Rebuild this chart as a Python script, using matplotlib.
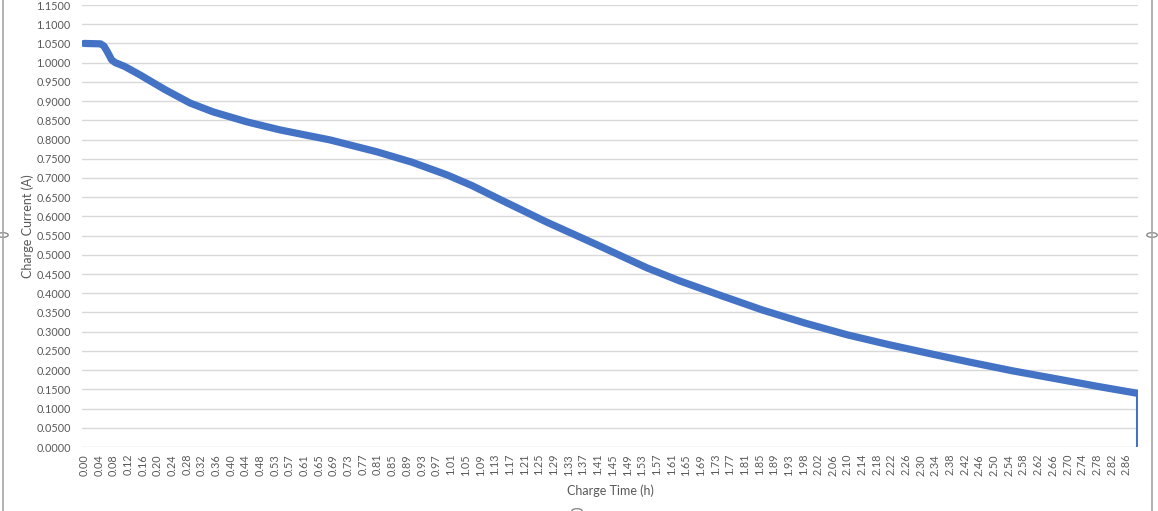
import numpy as np
import matplotlib.pyplot as plt
from matplotlib.patches import Circle
from matplotlib.lines import Line2D

# Charge curve (hours, amps)
time_h = [0.000, 0.045, 0.055, 0.066, 0.076, 0.086, 0.112, 0.154, 0.222, 0.291,
          0.354, 0.447, 0.538, 0.675, 0.804, 0.900, 0.996, 1.065, 1.133, 1.270,
          1.408, 1.545, 1.635, 1.745, 1.863, 1.980, 2.094, 2.210, 2.321, 2.435,
          2.549, 2.665, 2.780, 2.889, 2.889]
current_a = [1.050, 1.049, 1.043, 1.025, 1.007, 1.000, 0.990, 0.968, 0.930, 0.895,
             0.872, 0.846, 0.825, 0.799, 0.768, 0.741, 0.708, 0.680, 0.648, 0.585,
             0.526, 0.466, 0.432, 0.395, 0.356, 0.322, 0.292, 0.266, 0.243, 0.220,
             0.198, 0.178, 0.158, 0.140, 0.000]

# category labels shown on the x axis
x_labels = ['0.00', '0.04', '0.08', '0.12', '0.16', '0.20', '0.24', '0.28', '0.32', '0.36',
            '0.40', '0.44', '0.48', '0.53', '0.57', '0.61', '0.65', '0.69', '0.73', '0.77',
            '0.81', '0.85', '0.89', '0.93', '0.97', '1.01', '1.05', '1.09', '1.13', '1.17',
            '1.21', '1.25', '1.29', '1.33', '1.37', '1.41', '1.45', '1.49', '1.53', '1.57',
            '1.61', '1.65', '1.69', '1.73', '1.77', '1.81', '1.85', '1.89', '1.93', '1.98',
            '2.02', '2.06', '2.10', '2.14', '2.18', '2.22', '2.26', '2.30', '2.34', '2.38',
            '2.42', '2.46', '2.50', '2.54', '2.58', '2.62', '2.66', '2.70', '2.74', '2.78',
            '2.82', '2.86']

plt.rcParams['font.family'] = ['Lato', 'DejaVu Sans']
text_col = '#595959'
blue = '#4472C4'

fig = plt.figure(figsize=(11.58, 5.11), dpi=100)
ax = fig.add_axes([0.0708, 0.1252, 0.9119, 0.8650])

# the curve itself, then the drop to zero at the end (drawn thinner in Excel)
ax.plot(time_h[:-1], current_a[:-1], color=blue, linewidth=5.2,
        solid_capstyle='round', solid_joinstyle='round', zorder=3)
ax.plot(time_h[-2:], current_a[-2:], color=blue, linewidth=2.2, zorder=3)

# Excel category axis: evenly spaced labels
step = 2.86 / (len(x_labels) - 1)
ax.set_xticks(np.arange(len(x_labels)) * step)
ax.set_xticklabels(x_labels, rotation=90, fontsize=7.8, color=text_col)
ax.set_xlim(-0.0055, 2.892)

ax.set_ylim(0, 1.15)
ax.set_yticks(np.arange(0, 1.1501, 0.05))
ax.set_yticklabels([f'{v:.4f}' for v in np.arange(0, 1.1501, 0.05)],
                   fontsize=7.8, color=text_col)
ax.grid(axis='y', color='#d9d9d9', linewidth=1)
ax.tick_params(length=0, pad=8)
ax.tick_params(axis='x', pad=5)
for s in ax.spines.values():
    s.set_visible(False)

ax.set_xlabel('Charge Time (h)', fontsize=9, color=text_col, labelpad=6)
ax.set_ylabel('Charge Current (A)', fontsize=9, color=text_col)
ax.yaxis.set_label_coords(-0.045, 0.50)

# chart selection frame and handles from the screenshot
fig.add_artist(Line2D([3 / 1158, 3 / 1158], [0, 1], color='#a6a6a6', linewidth=1.2))
fig.add_artist(Line2D([1152 / 1158, 1152 / 1158], [0, 1], color='#a6a6a6', linewidth=1.2))
for hx, hy in [(3, 235), (1152, 235), (577, 511)]:
    fig.add_artist(Circle((hx / 1158, 1 - hy / 511), 0.0045, transform=fig.transFigure,
                          facecolor='white', edgecolor='#8c8c8c', linewidth=1))

plt.savefig('out.png', dpi=100)
